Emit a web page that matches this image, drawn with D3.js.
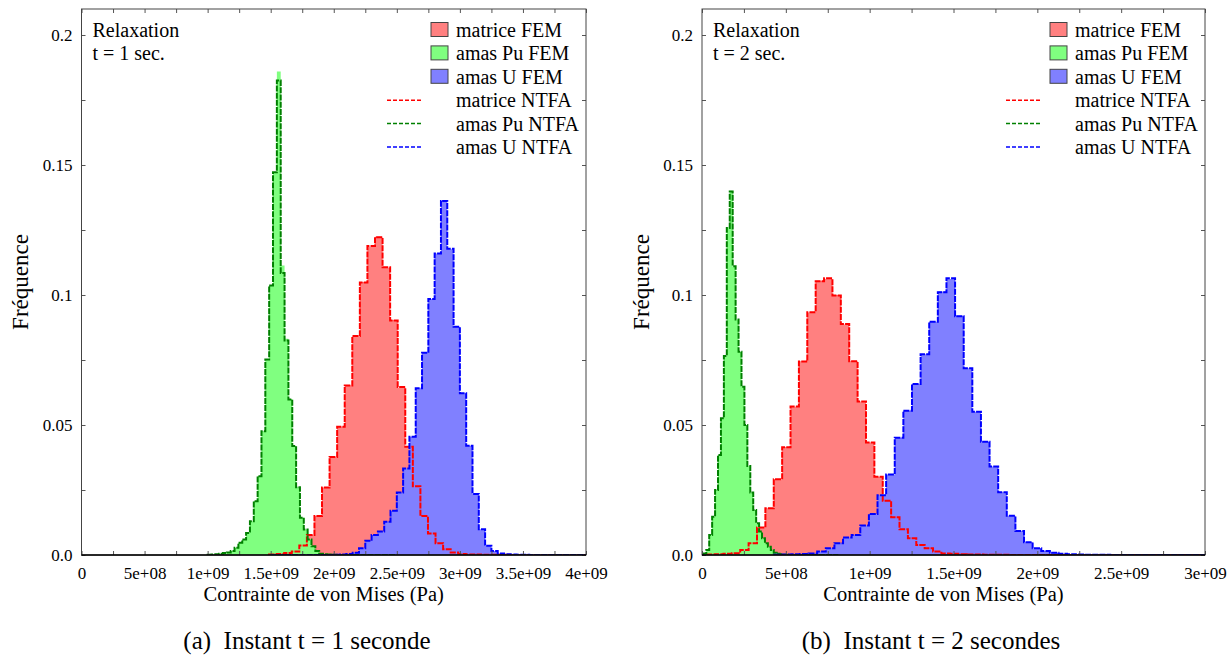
<!DOCTYPE html>
<html><head><meta charset="utf-8">
<script src="https://cdn.jsdelivr.net/npm/d3@7"></script>
<style>
body{margin:0;background:#fff}
svg{display:block}
text{font-family:"Liberation Serif","Times New Roman",serif;fill:#000}
</style>
</head><body>
<svg id="chart" width="1231" height="656"></svg>
<script>
// ---------- data ----------
const legendLabels = ["matrice FEM","amas Pu FEM","amas U FEM","matrice NTFA","amas Pu NTFA","amas U NTFA"];
const yTickValues = [0,0.025,0.05,0.075,0.1,0.125,0.15,0.175,0.2];
const yTickLabels = ["0.0","","0.05","","0.1","","0.15","","0.2"];
const xTickValues1 = [0,2.5e8,5e8,7.5e8,1e9,1.25e9,1.5e9,1.75e9,2e9,2.25e9,2.5e9,2.75e9,3e9,3.25e9,3.5e9,3.75e9,4e9];
const xTickLabels1 = ["0","","5e+08","","1e+09","","1.5e+09","","2e+09","","2.5e+09","","3e+09","","3.5e+09","","4e+09"];
const xTickValues2 = [0,2.5e8,5e8,7.5e8,1e9,1.25e9,1.5e9,1.75e9,2e9,2.25e9,2.5e9,2.75e9,3e9];
const xTickLabels2 = ["0","","5e+08","","1e+09","","1.5e+09","","2e+09","","2.5e+09","","3e+09"];

// t = 1 s : bin start (Pa), bin width (Pa), frequencies
const matStart1 = 1.487e9, matWidth1 = 6.0e7;
const matFEM1  = [0.0002,0.0004,0.0008,0.0013,0.0038,0.0077,0.0151,0.026,0.0376,0.0494,0.0653,0.084,0.105,0.1186,0.1224,0.1105,0.0904,0.0644,0.0417,0.0263,0.015,0.0083,0.0045,0.0022,0.001,0.0004,0.0002,0.0002,0.0001,0.0001,0.0001,0.0001,0,0,0,0,0,0,0,0,0,0];
const matNTFA1 = [0.0002,0.0004,0.0008,0.0013,0.0037,0.0077,0.0150,0.026,0.0377,0.0493,0.0652,0.0842,0.1048,0.1188,0.1222,0.1107,0.0902,0.0646,0.0416,0.0264,0.015,0.0083,0.0045,0.0022,0.001,0.0004,0.0002,0.0002,0.0001,0.0001,0.0001,0.0001,0,0,0,0,0,0,0,0,0,0];
const puStart1 = 1.0e9, puWidth1 = 3.05e7;
const puFEM1  = [0.0001,0.0002,0.0003,0.0005,0.0008,0.001,0.0015,0.0028,0.0047,0.006,0.0085,0.013,0.0207,0.0303,0.0476,0.0752,0.1037,0.147,0.186,0.1113,0.0832,0.060,0.0419,0.0261,0.0143,0.0098,0.006,0.0034,0.0015,0.0005,0.0003,0.0002,0.0001,0.0001,0,0,0,0,0,0,0,0,0,0,0,0,0,0,0];
const puNTFA1 = [0.0001,0.0002,0.0003,0.0005,0.0008,0.001,0.0015,0.0028,0.0047,0.006,0.0085,0.013,0.0207,0.0303,0.0476,0.0752,0.1037,0.1472,0.1825,0.1085,0.0825,0.0598,0.0419,0.0261,0.0143,0.0098,0.006,0.0034,0.0015,0.0005,0.0003,0.0002,0.0001,0.0001,0,0,0,0,0,0,0,0,0,0,0,0,0,0,0];
const uStart1 = 1.5e9, uWidth1 = 5.0e7;
const uFEM1  = [0,0,0,0,0,0,0,0,0,0,0.0001,0.0002,0.0004,0.0009,0.0026,0.0055,0.0077,0.009,0.0128,0.017,0.024,0.0333,0.0455,0.0641,0.0778,0.0985,0.116,0.1365,0.1176,0.0878,0.0622,0.042,0.0235,0.0099,0.0036,0.0015,0.0006,0.0003,0.0002,0.0001,0.0001,0,0,0,0,0,0,0,0,0];
const uNTFA1 = [0,0,0,0,0,0,0,0,0,0,0.0001,0.0002,0.0004,0.0009,0.0026,0.0055,0.0077,0.009,0.0128,0.017,0.024,0.0333,0.0455,0.0641,0.0778,0.0985,0.116,0.1362,0.1178,0.0878,0.0622,0.042,0.0235,0.0099,0.0036,0.0015,0.0006,0.0003,0.0002,0.0001,0.0001,0,0,0,0,0,0,0,0,0];

// t = 2 s
const matStart2 = 2.8e7, matWidth2 = 5.0e7;
const matFEM2  = [0.0002,0.0003,0.0005,0.0007,0.0019,0.0045,0.0107,0.018,0.029,0.0415,0.057,0.0745,0.0933,0.1055,0.1062,0.100,0.0887,0.0746,0.059,0.0433,0.0301,0.0209,0.0145,0.0099,0.0064,0.0038,0.0026,0.0013,0.0006,0.0005,0.0003,0.0002,0.0002,0.0001,0.0001,0.0001,0,0,0,0,0,0,0,0,0,0,0,0,0,0,0,0,0,0,0,0,0,0,0,0];
const matNTFA2 = [0.0002,0.0003,0.0005,0.0007,0.0019,0.0045,0.0106,0.018,0.0291,0.0414,0.0571,0.0744,0.0934,0.1053,0.1064,0.0998,0.0888,0.0745,0.059,0.0433,0.0301,0.0209,0.0145,0.0099,0.0064,0.0038,0.0026,0.0013,0.0006,0.0005,0.0003,0.0002,0.0002,0.0001,0.0001,0.0001,0,0,0,0,0,0,0,0,0,0,0,0,0,0,0,0,0,0,0,0,0,0,0,0];
const puStart2 = 0.8e7, puWidth2 = 1.75e7;
const puFEM2  = [0.0006,0.0019,0.0077,0.0147,0.025,0.0385,0.0526,0.0763,0.126,0.1401,0.1109,0.0906,0.0782,0.0647,0.05,0.0342,0.024,0.0173,0.0122,0.009,0.0064,0.0045,0.0032,0.0019,0.0009,0.0005,0.0003,0.0001,0.0001,0,0,0,0,0,0,0,0,0,0,0,0,0,0,0,0,0];
const puNTFA2 = [0.0006,0.0019,0.0077,0.0147,0.025,0.0385,0.0526,0.0765,0.1258,0.1398,0.1111,0.0906,0.0782,0.0647,0.05,0.0342,0.024,0.0173,0.0122,0.009,0.0064,0.0045,0.0032,0.0019,0.0009,0.0005,0.0003,0.0001,0.0001,0,0,0,0,0,0,0,0,0,0,0,0,0,0,0,0,0];
const uStart2 = 4.3e8, uWidth2 = 5.14e7;
const uFEM2  = [0.0001,0.0002,0.0003,0.0004,0.0006,0.0013,0.0026,0.0045,0.0067,0.0077,0.0113,0.0158,0.023,0.031,0.0451,0.0555,0.0658,0.0772,0.0897,0.1013,0.1062,0.092,0.0718,0.0551,0.0436,0.034,0.0241,0.0151,0.0092,0.0049,0.0026,0.0015,0.0009,0.0005,0.0003,0.0002,0.0001,0.0001,0.0001,0,0,0,0,0,0,0,0,0,0,0];
const uNTFA2 = [0.0001,0.0002,0.0003,0.0004,0.0006,0.0013,0.0026,0.0045,0.0067,0.0077,0.0113,0.0158,0.023,0.031,0.0451,0.0555,0.0658,0.0772,0.0897,0.1011,0.1064,0.0918,0.0718,0.0551,0.0436,0.034,0.0241,0.0151,0.0092,0.0049,0.0026,0.0015,0.0009,0.0005,0.0003,0.0002,0.0001,0.0001,0.0001,0,0,0,0,0,0,0,0,0,0,0];

// ---------- styles ----------
const fillColors = ["#ff8080","#80ff80","#8080ff"];
const lineColors = ["#ff0000","#008000","#0000ff"];

const panels = [
  {left:81.5, right:586, xMax:4e9, ticks:xTickValues1, labels:xTickLabels1,
   note:["Relaxation","t = 1 sec."], caption:"(a)\u2002Instant t = 1 seconde", capX:307,
   fem:[[matStart1,matWidth1,matFEM1],[puStart1,puWidth1,puFEM1],[uStart1,uWidth1,uFEM1]],
   ntfa:[[matStart1,matWidth1,matNTFA1],[puStart1,puWidth1,puNTFA1],[uStart1,uWidth1,uNTFA1]]},
  {left:702, right:1205, xMax:3e9, ticks:xTickValues2, labels:xTickLabels2,
   note:["Relaxation","t = 2 sec."], caption:"(b)\u2002Instant t = 2 secondes", capX:931,
   fem:[[matStart2,matWidth2,matFEM2],[puStart2,puWidth2,puFEM2],[uStart2,uWidth2,uFEM2]],
   ntfa:[[matStart2,matWidth2,matNTFA2],[puStart2,puWidth2,puNTFA2],[uStart2,uWidth2,uNTFA2]]}
];

const svg = d3.select("#chart");
const TOP = 9, BOTTOM = 555;

function stepPoints(start, width, vals) {
  const pts = vals.map((v,i)=>[start + i*width, v]);
  pts.push([start + vals.length*width, vals[vals.length-1]]);
  return pts;
}

panels.forEach((p, pi) => {
  const x = d3.scaleLinear().domain([0, p.xMax]).range([p.left, p.right]);
  const y = d3.scaleLinear().domain([0, 0.21]).range([BOTTOM, TOP]);
  const g = svg.append("g");

  const clipId = "clip" + pi;
  svg.append("defs").append("clipPath").attr("id", clipId)
    .append("rect").attr("x", p.left).attr("y", TOP).attr("width", p.right - p.left).attr("height", BOTTOM - TOP);

  const plot = g.append("g").attr("clip-path", `url(#${clipId})`);

  const area = d3.area().curve(d3.curveStepAfter).x(d=>x(d[0])).y0(y(0)).y1(d=>y(d[1]));
  p.fem.forEach((s, i) => {
    plot.append("path").attr("d", area(stepPoints(s[0], s[1], s[2])))
      .attr("fill", fillColors[i]).attr("stroke", "none");
  });
  const line = d3.line().curve(d3.curveStepAfter).x(d=>x(d[0])).y(d=>y(d[1]));
  p.ntfa.forEach((s, i) => {
    const pts = stepPoints(s[0], s[1], s[2]);
    const full = [[s[0], 0]].concat(pts);
    const last = pts[pts.length-1];
    full.push([last[0], 0]);
    plot.append("path").attr("d", line(full))
      .attr("fill", "none").attr("stroke", lineColors[i]).attr("stroke-width", 2)
      .attr("stroke-dasharray", "6,1.2");
  });

  // axes (ticks inward)
  const fmtX = d => p.labels[p.ticks.indexOf(d)];
  const fmtY = d => yTickLabels[yTickValues.indexOf(d)];
  const axB = g.append("g").attr("transform", `translate(0,${BOTTOM})`)
    .call(d3.axisBottom(x).tickValues(p.ticks).tickFormat(fmtX).tickSizeInner(-4).tickSizeOuter(0).tickPadding(12));
  const axT = g.append("g").attr("transform", `translate(0,${TOP})`)
    .call(d3.axisTop(x).tickValues(p.ticks).tickFormat("").tickSizeInner(-4).tickSizeOuter(0));
  const axL = g.append("g").attr("transform", `translate(${p.left},0)`)
    .call(d3.axisLeft(y).tickValues(yTickValues).tickFormat(fmtY).tickSizeInner(-4).tickSizeOuter(0).tickPadding(9));
  const axR = g.append("g").attr("transform", `translate(${p.right},0)`)
    .call(d3.axisRight(y).tickValues(yTickValues).tickFormat("").tickSizeInner(-4).tickSizeOuter(0));
  [axB, axT, axL, axR].forEach(a => {
    a.select(".domain").remove();
    a.selectAll(".tick line").attr("stroke", "#555");
    a.selectAll("text").attr("font-size", 17).attr("font-family", "Liberation Serif").attr("fill", "#000");
  });

  // frame
  g.append("rect").attr("x", p.left).attr("y", TOP).attr("width", p.right - p.left).attr("height", BOTTOM - TOP)
    .attr("fill", "none").attr("stroke", "#444").attr("stroke-width", 1);
  g.append("line").attr("x1", p.left).attr("x2", p.right).attr("y1", BOTTOM).attr("y2", BOTTOM)
    .attr("stroke", "#000").attr("stroke-width", 1.5);

  // annotation
  p.note.forEach((t, i) => {
    g.append("text").attr("x", p.left + 11).attr("y", 30 + i*23.4).attr("dominant-baseline", "central")
      .attr("font-size", 20).text(t);
  });

  // legend
  legendLabels.forEach((lab, i) => {
    const cy = 30 + i*23.4;
    g.append("text").attr("x", p.right - 130).attr("y", cy).attr("dominant-baseline", "central")
      .attr("font-size", 20).text(lab);
    if (i < 3) {
      g.append("rect").attr("x", p.right - 155).attr("y", cy - 7.5).attr("width", 17).attr("height", 14)
        .attr("fill", fillColors[i]).attr("stroke", "#444").attr("stroke-width", 1);
    } else {
      g.append("line").attr("x1", p.right - 199).attr("x2", p.right - 164).attr("y1", cy).attr("y2", cy)
        .attr("stroke", lineColors[i-3]).attr("stroke-width", 1.5).attr("stroke-dasharray", "4,2");
    }
  });

  // axis titles
  g.append("text").attr("x", (p.left + p.right)/2 - 10).attr("y", 594).attr("text-anchor", "middle")
    .attr("dominant-baseline", "central").attr("font-size", 20.5).text("Contrainte de von Mises (Pa)");
  g.append("text").attr("transform", `translate(${p.left - 61},${(TOP+BOTTOM)/2}) rotate(-90)`)
    .attr("text-anchor", "middle").attr("dominant-baseline", "central").attr("font-size", 23).text("Fréquence");
  // caption
  g.append("text").attr("x", p.capX).attr("y", 640).attr("text-anchor", "middle")
    .attr("dominant-baseline", "central").attr("font-size", 25).text(p.caption);
});
</script>
</body></html>
